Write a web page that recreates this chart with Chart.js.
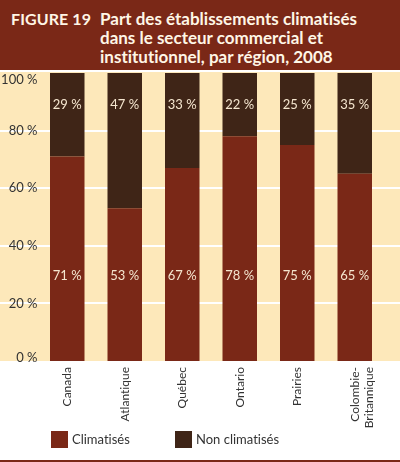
<!DOCTYPE html>
<html>
<head>
<meta charset="utf-8">
<script src="https://cdn.jsdelivr.net/npm/chart.js@4"></script>
<style>
  html, body { margin:0; padding:0; }
  body { width:400px; height:462px; position:relative; background:#ffffff; overflow:hidden; font-family: Lato, "Open Sans", sans-serif; font-variant-ligatures: none; font-feature-settings: "liga" 0, "clig" 0; }
  #banner { position:absolute; left:0; top:0; width:400px; height:70px; background:#7A2817; }
  #fig { position:absolute; left:11px; top:9px; color:#FFF6E6; font-weight:700; font-size:16px; line-height:19.2px; white-space:nowrap; letter-spacing:0.1px; }
  #title { position:absolute; left:100px; top:9px; color:#FFF6E6; font-weight:700; font-size:17px; line-height:19.2px; white-space:nowrap; }
  #wrap { position:absolute; left:0; top:72px; width:400px; height:390px; }
  #legend { position:absolute; left:0; top:431px; width:400px; height:17px; }
  .li { position:absolute; top:0; height:17px; }
  .sw { position:absolute; left:0; top:0; width:17px; height:17px; }
  .lt { position:absolute; left:21px; top:-1px; font-size:13px; line-height:19px; color:#333; white-space:nowrap; }
  #rule { position:absolute; left:0; top:460px; width:400px; height:2px; background:#7A2817; }
</style>
</head>
<body>
<div id="banner"></div>
<div id="fig">FIGURE 19</div>
<div id="title">Part des établissements climatisés<br>dans le secteur commercial et<br>institutionnel, par région, 2008</div>
<div id="wrap"><canvas id="c"></canvas></div>
<div id="legend"></div>
<div id="rule"></div>
<script>
// ---- data ----
const categories = ['Canada', 'Atlantique', 'Québec', 'Ontario', 'Prairies', ['Colombie-', 'Britannique']];
const seriesNames = ['Climatisés', 'Non climatisés'];
const climatises = [71, 53, 67, 78, 75, 65];
const nonClimatises = [29, 47, 33, 22, 25, 35];
const yTicks = [0, 20, 40, 60, 80, 100];

// ---- styles ----
const colClim = '#7A2817';
const colNon = '#3F2517';
const cream = '#FDE8BA';
const labelCol = '#F5E6CF';
const labelLevels = [29.5, 89]; // axis value at which each series' value label sits

function noLig(ctx) {
  try { ctx.textRendering = 'optimizeSpeed'; } catch (e) {}
  try { ctx.letterSpacing = '0.01px'; } catch (e) {}
}

const bgPlugin = {
  id: 'bg',
  beforeDraw(chart) {
    const { ctx, chartArea, scales: { y } } = chart;
    noLig(ctx);
    ctx.save();
    ctx.fillStyle = cream;
    ctx.fillRect(0, 0, chart.width, chartArea.bottom);
    ctx.strokeStyle = '#ffffff';
    ctx.lineWidth = 2;
    y.ticks.forEach(t => {
      if (t.value <= 0 || t.value >= 100) return;
      const py = Math.round(y.getPixelForValue(t.value));
      ctx.beginPath();
      ctx.moveTo(0, py);
      ctx.lineTo(chart.width, py);
      ctx.stroke();
    });
    // y tick labels
    ctx.fillStyle = '#333333';
    ctx.font = '13px Lato, "Open Sans", sans-serif';
    ctx.textAlign = 'right';
    ctx.textBaseline = 'middle';
    y.ticks.forEach(t => {
      let py = y.getPixelForValue(t.value);
      py = Math.min(Math.max(py, chartArea.top + 7), chartArea.bottom - 3);
      ctx.fillText(t.value + ' %', chartArea.left - 1, py);
    });
    ctx.restore();
  }
};

const valuePlugin = {
  id: 'vals',
  afterDatasetsDraw(chart) {
    const { ctx, scales: { y } } = chart;
    ctx.save();
    noLig(ctx);
    ctx.fillStyle = labelCol;
    ctx.font = '13px Lato, "Open Sans", sans-serif';
    ctx.textAlign = 'center';
    ctx.textBaseline = 'middle';
    chart.data.datasets.forEach((ds, i) => {
      const meta = chart.getDatasetMeta(i);
      const py = y.getPixelForValue(labelLevels[i]);
      meta.data.forEach((bar, j) => {
        ctx.fillText(ds.data[j] + ' %', bar.x, py);
      });
    });
    ctx.restore();
  }
};

const chart = new Chart(document.getElementById('c'), {
  type: 'bar',
  data: {
    labels: categories,
    datasets: [
      { label: seriesNames[0], data: climatises, backgroundColor: colClim, borderWidth: 0 },
      { label: seriesNames[1], data: nonClimatises, backgroundColor: colNon, borderWidth: 0 }
    ]
  },
  options: {
    responsive: true,
    maintainAspectRatio: false,
    animation: false,
    devicePixelRatio: 1,
    layout: { padding: { left: 38.5, right: 16.5, top: 1, bottom: 0 } },
    datasets: { bar: { barPercentage: 0.6, categoryPercentage: 1.0 } },
    plugins: { legend: { display: false }, tooltip: { enabled: false } },
    scales: {
      x: {
        stacked: true,
        grid: { display: false, drawTicks: false },
        border: { display: false },
        ticks: {
          color: '#333333',
          font: { family: 'Lato, "Open Sans", sans-serif', size: 12 },
          minRotation: 90, maxRotation: 90,
          padding: 6,
          autoSkip: false
        },
        afterFit(s) { s.height = 101; }
      },
      y: {
        stacked: true,
        min: 0, max: 100,
        afterBuildTicks(s) { s.ticks = yTicks.map(v => ({ value: v })); },
        grid: { display: false, drawTicks: false },
        border: { display: false },
        ticks: { display: false }
      }
    }
  },
  plugins: [bgPlugin, valuePlugin]
});

// HTML legend built from dataset names/colours
const lg = document.getElementById('legend');
const legendX = [51, 175];
chart.data.datasets.forEach((ds, i) => {
  const it = document.createElement('div');
  it.className = 'li';
  it.style.left = legendX[i] + 'px';
  it.innerHTML = '<div class="sw" style="background:' + ds.backgroundColor + '"></div><div class="lt">' + ds.label + '</div>';
  lg.appendChild(it);
});
</script>
</body>
</html>
